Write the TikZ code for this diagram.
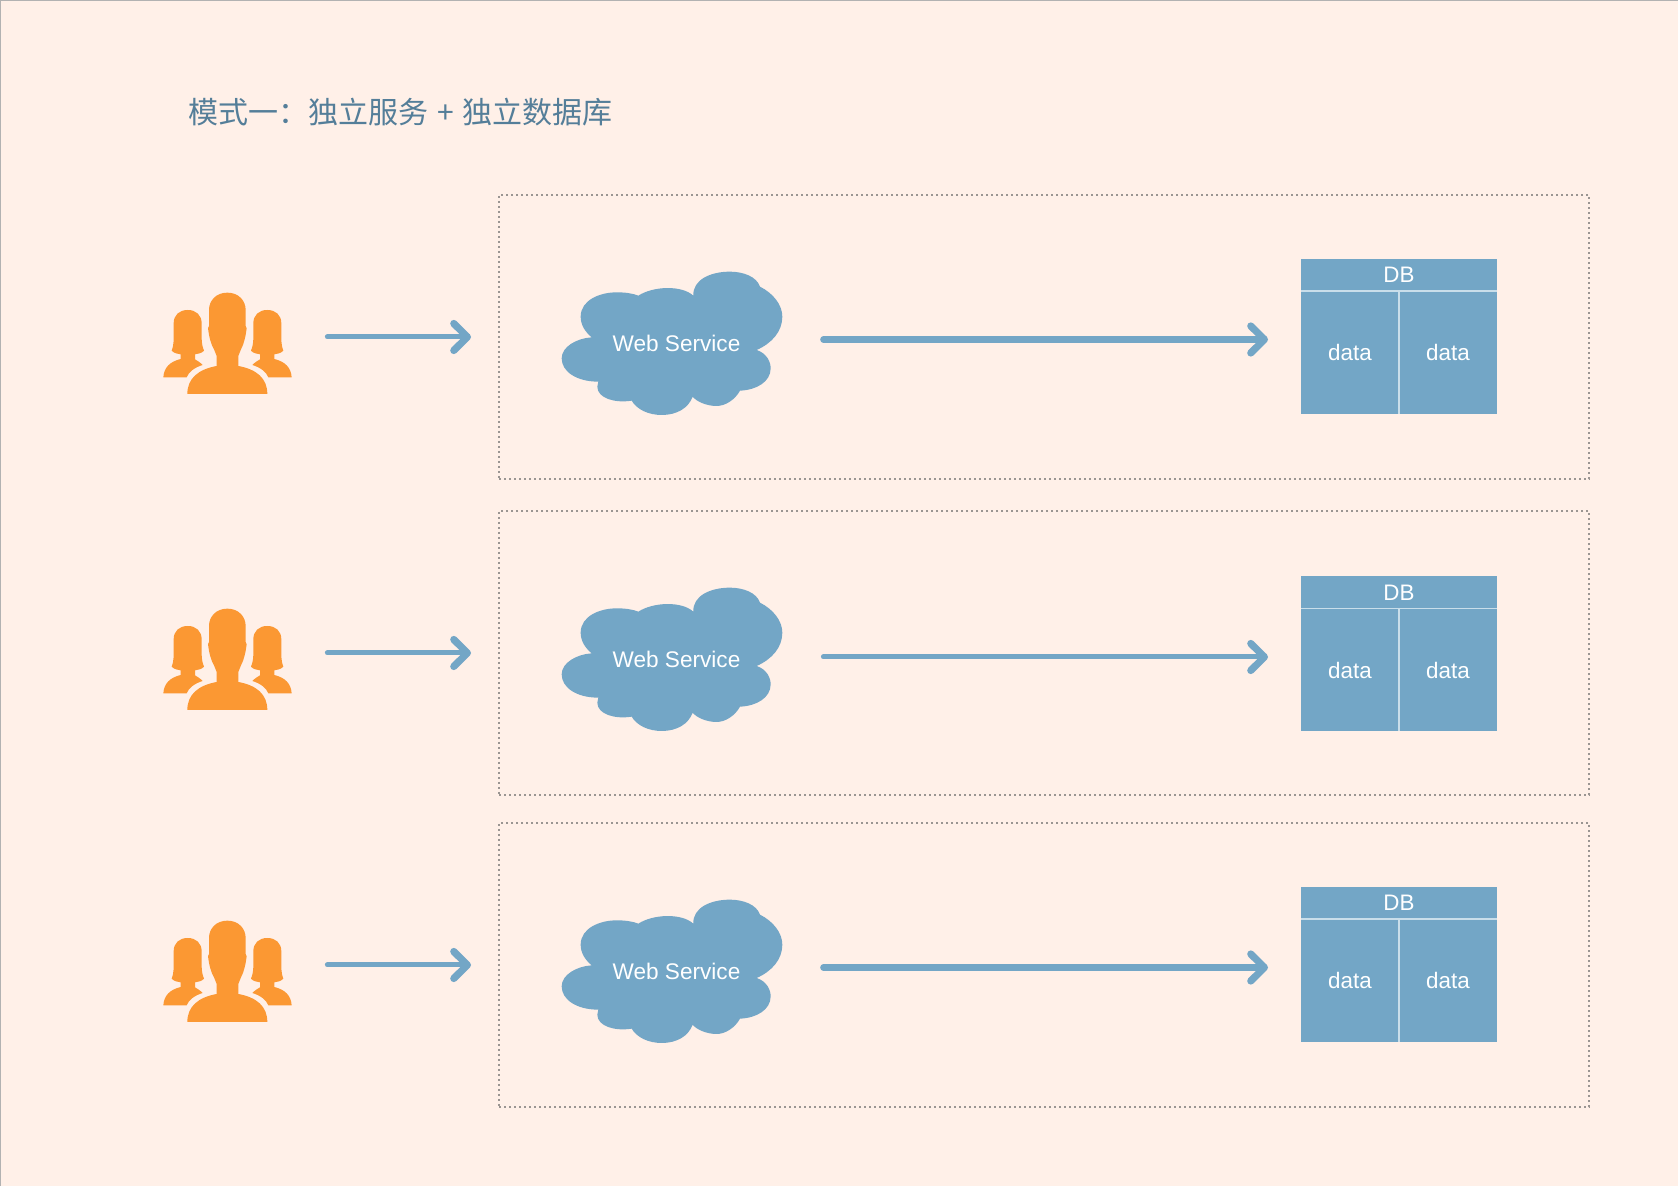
\documentclass[tikz,border=0pt]{standalone}
\usepackage{fontspec}
\setmainfont{Liberation Sans}
\newfontfamily\cjkfont{Noto Sans CJK SC}
\usetikzlibrary{arrows.meta}

\definecolor{pagebg}{HTML}{FFF0E8}
\definecolor{cloudblue}{HTML}{73A6C6}
\definecolor{cellline}{HTML}{C9DEEA}
\definecolor{userorange}{HTML}{FB9833}
\definecolor{titleblue}{HTML}{547E99}
\definecolor{dotgrey}{HTML}{9A9592}

\tikzset{
	framebox/.style={draw=dotgrey, line width=1pt, dash pattern=on 1.2pt off 1.3pt, minimum width=545pt, minimum height=142pt},
	celltext/.style={text=white, font=\fontsize{11.3}{13}\selectfont, inner sep=0pt},
	dbcell/.style={fill=cloudblue, text=white, font=\fontsize{11.2}{13}\selectfont, inner sep=0pt, outer sep=0pt},
	flow/.style={draw=cloudblue, line cap=round, shorten <=1pt, -{Straight Barb[length=6.8pt,width=13.5pt,line width=3.6pt,round]}},
	usersicon/.pic={
		\fill[userorange] (262,98) .. controls (228,98) and (207,122) .. (207,150) -- (207,198) -- (204,205) .. controls (207,228) and (212,252) .. (222,268) -- (230,288) -- (230,318) .. controls (175,328) and (142,355) .. (142,402) -- (382,402) .. controls (382,355) and (350,328) .. (295,318) -- (295,288) -- (303,268) .. controls (312,252) and (317,228) .. (320,205) -- (317,198) -- (317,150) .. controls (317,122) and (296,98) .. (262,98) -- cycle;
		\foreach \flip/\shift in {1/0,-1/525} {
			\fill[userorange, xshift=\shift*1pt*0.5, xscale=\flip] (143,150) .. controls (118,150) and (101,165) .. (101,190) -- (101,235) .. controls (101,252) and (98,265) .. (95,272) .. controls (103,280) and (113,282) .. (122,283) -- (122,297) .. controls (90,305) and (72,322) .. (70,352) -- (140,352) .. controls (146,335) and (165,322) .. (188,315) .. controls (180,307) and (172,302) .. (165,298) -- (165,283) .. controls (175,282) and (186,279) .. (192,272) .. controls (188,262) and (185,250) .. (185,235) -- (185,190) .. controls (185,165) and (168,150) .. (143,150) -- cycle;
		}
	},
	webcloud/.pic={
		\fill[cloudblue] (295,137) .. controls (340,108) and (425,105) .. (460,137)
			.. controls (458,90) and (510,65) .. (570,65)
			.. controls (610,65) and (650,80) .. (660,110)
			.. controls (700,130) and (727,165) .. (727,200)
			.. controls (727,245) and (695,280) .. (650,300)
			.. controls (680,310) and (692,335) .. (692,355)
			.. controls (692,395) and (650,420) .. (600,422)
			.. controls (585,450) and (555,468) .. (530,468)
			.. controls (500,468) and (470,455) .. (458,440)
			.. controls (445,475) and (410,495) .. (365,495)
			.. controls (325,495) and (290,478) .. (275,452)
			.. controls (225,460) and (172,445) .. (172,410)
			.. controls (172,405) and (173,400) .. (175,395)
			.. controls (110,395) and (65,365) .. (65,325)
			.. controls (65,290) and (110,265) .. (155,262)
			.. controls (135,245) and (122,225) .. (122,200)
			.. controls (122,150) and (180,127) .. (230,127)
			.. controls (255,127) and (278,130) .. (295,137) -- cycle;
	}
}

\begin{document}
\begin{tikzpicture}[x=0.5pt, y=-0.5pt]
	
	% Page
	\useasboundingbox (0,0) rectangle (1678,1186);
	\fill[pagebg] (0,0) rectangle (1678,1186);
	\draw[color=black!30, line width=0.5pt] (0.5,1186) -- (0.5,0.5) -- (1678,0.5);
	
	% Title
	\node[anchor=west, inner sep=0pt, text=titleblue, font=\fontsize{15}{18}\cjkfont] (title) at (188,112) {模式一：独立服务\hspace{1.1pt} + \hspace{1.1pt}独立数据库};
	
	% One row per service
	\foreach \r/\dy/\dz/\lw in {1/0/0/3.2pt, 2/316/317.5/2.5pt, 3/628/628/3.2pt} {
		
		% Dotted frame
		\node[framebox] (frame\r) at (1044,337+\dy) {};
		
		% Users
		\pic[scale=1/3] at (140,260+\dy) {usersicon};
		\node[minimum width=97pt, minimum height=50pt, inner sep=0pt] (users\r) at (228,337+\dy) {};
		
		% Web service cloud
		\pic[scale=1/3] at (540,250+\dy) {webcloud};
		\node[minimum width=145pt, minimum height=70pt, inner sep=0pt] (web\r) at (676,339.5+\dz) {};
		\node[celltext] (webtext\r) at (676.5,343.5+\dy) {Web Service};
		
		% Database
		\node[dbcell, minimum width=98pt, minimum height=16pt] (dbhead\r) at (1399,275+\dz) {DB};
		\node[dbcell, minimum width=49pt, minimum height=61.5pt] (dbleft\r) at (1350,352.5+\dz) {data};
		\node[dbcell, minimum width=49pt, minimum height=61.5pt] (dbright\r) at (1448,352.5+\dz) {data};
		\draw[cellline, line width=0.7pt] (dbhead\r.south west) -- (dbhead\r.south east);
		\draw[cellline, line width=0.7pt] (dbhead\r.south) -- (dbleft\r.south east);
		
		% Connectors
		\draw[flow, line width=2.5pt, shorten >=13.5pt] (users\r.east) -- (users\r.east -| frame\r.west);
		\draw[flow, line width=\lw, shorten >=16.5pt] (web\r.east) -- (web\r.east -| dbleft\r.west);
	}
	
\end{tikzpicture}
\end{document}
